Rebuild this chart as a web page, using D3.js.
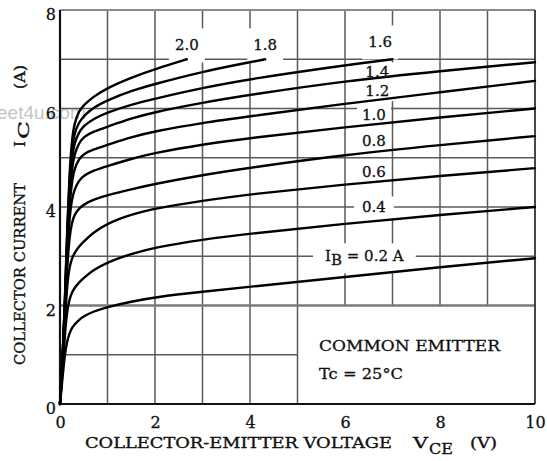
<!DOCTYPE html>
<html><head><meta charset="utf-8">
<script src="https://cdn.jsdelivr.net/npm/d3@7"></script>
<style>body{margin:0;background:#fff}svg{display:block}</style>
</head><body><svg id="c" width="547" height="461"></svg>
<script>
// ---- data ----
const vce   = [0,0.05,0.1,0.15,0.2,0.25,0.3,0.4,0.5,0.7,1,1.5,2,3,4,6,8,10];
const ic02  = [0,0.5,1.0,1.28,1.44,1.54,1.61,1.71,1.78,1.88,1.97,2.08,2.17,2.28,2.38,2.58,2.78,2.96];
const ic04  = [0,0.6,1.4,1.9,2.13,2.26,2.35,2.47,2.56,2.72,2.88,3.05,3.18,3.34,3.46,3.66,3.84,4.0];
const ic06  = [0,0.65,1.6,2.45,2.78,2.95,3.06,3.2,3.3,3.48,3.67,3.85,3.97,4.13,4.26,4.46,4.63,4.79];
const ic08  = [0,0.7,1.7,2.8,3.4,3.68,3.84,3.97,4.05,4.15,4.24,4.36,4.47,4.65,4.8,5.06,5.26,5.44];
const ic10  = [0,0.75,1.75,3.0,3.8,4.15,4.35,4.54,4.64,4.74,4.83,4.98,5.1,5.27,5.4,5.62,5.82,6.0];
const ic12  = [0,0.75,1.8,3.15,4.05,4.5,4.77,4.98,5.08,5.17,5.26,5.42,5.54,5.71,5.84,6.1,6.33,6.56];
const ic14  = [0,0.8,1.85,3.25,4.25,4.75,5.07,5.3,5.43,5.53,5.63,5.8,5.93,6.12,6.28,6.56,6.76,6.94];
const vce16 = [0,0.05,0.1,0.15,0.2,0.25,0.3,0.4,0.5,0.7,1,1.5,2,3,4,6,7];
const ic16  = [0,0.8,1.9,3.35,4.4,4.95,5.3,5.52,5.65,5.79,5.92,6.08,6.2,6.42,6.6,6.88,7.0];
const vce18 = [0,0.05,0.1,0.15,0.2,0.25,0.3,0.4,0.5,0.7,1,1.5,2,3,4,4.32];
const ic18  = [0,0.8,1.95,3.45,4.55,5.15,5.5,5.72,5.85,6.02,6.17,6.36,6.5,6.75,6.94,7.0];
const vce20 = [0,0.05,0.1,0.15,0.2,0.25,0.3,0.4,0.5,0.7,1,1.5,2,2.67];
const ic20  = [0,0.8,2.0,3.55,4.7,5.35,5.7,5.95,6.07,6.24,6.42,6.63,6.8,7.0];
const ibLabels = ["2.0","1.8","1.6","1.4","1.2","1.0","0.8","0.6","0.4","0.2"];
const xTicks = [0,2,4,6,8,10];
const yTicks = [0,2,4,6,8];
const xGrid = [1,2,3,4,5,6,7,8,9];
const yGrid = [1,2,3,4,5,6,7];

// ---- layout ----
const svg = d3.select("#c");
const x = d3.scaleLinear().domain([0,10]).range([60,535]);
const y = d3.scaleLinear().domain([0,8]).range([404,10]);
const FONT = "'DejaVu Serif', serif";
const INK = "#111";
const box = {x0:5, y1:2}; // lower-right legend box (no grid inside)

svg.append("rect").attr("width",547).attr("height",461).attr("fill","#fff");

// watermark
svg.append("text").attr("x",-3).attr("y",119).attr("font-family","'Liberation Sans', Arial, sans-serif")
  .attr("font-size",19).attr("fill","#c4c4c4").text("eet4u.com");

// grid
const grid = svg.append("g").attr("stroke","#5a5a5a").attr("stroke-width",1.5);
xGrid.forEach(v=>{
  grid.append("line").attr("x1",x(v)).attr("x2",x(v))
    .attr("y1", v>box.x0 ? y(box.y1) : y(0)).attr("y2",y(8));
});
yGrid.forEach(v=>{
  grid.append("line").attr("y1",y(v)).attr("y2",y(v))
    .attr("x1",x(0)).attr("x2", v<box.y1 ? x(box.x0) : x(10))
    .attr("stroke", v===2 ? "#7a7a7a" : null).attr("stroke-width", v===2 ? 2.6 : null);
});

const maskLayer = svg.append("g");

// frame
svg.append("line").attr("x1",x(0)).attr("x2",x(10)).attr("y1",y(8)).attr("y2",y(8)).attr("stroke","#8a8a8a").attr("stroke-width",2.2);
svg.append("line").attr("x1",x(10)).attr("x2",x(10)).attr("y1",y(8)).attr("y2",y(0)).attr("stroke","#333").attr("stroke-width",1.8);
svg.append("line").attr("x1",x(0)).attr("x2",x(0)).attr("y1",y(8)).attr("y2",y(0)).attr("stroke","#111").attr("stroke-width",2.2);
svg.append("line").attr("x1",x(0)).attr("x2",x(10)).attr("y1",y(0)).attr("y2",y(0)).attr("stroke","#111").attr("stroke-width",2.2);

// curves
const series = [
  [vce20,ic20],[vce18,ic18],[vce16,ic16],[vce,ic14],[vce,ic12],
  [vce,ic10],[vce,ic08],[vce,ic06],[vce,ic04],[vce,ic02]
];
const line = d3.line().x(d=>x(d[0])).y(d=>y(d[1])).curve(d3.curveBasis);
svg.append("g").selectAll("path").data(series).join("path")
  .attr("d", s => line(s[0].map((v,i)=>[v,s[1][i]])))
  .attr("fill","none").attr("stroke","#000").attr("stroke-width",2.4)
  .attr("stroke-linejoin","round").attr("stroke-linecap","round");

// curve labels (position in data units + mask padding)
const labelPos = [
  {vx:2.67, vy:7.29, px:6, py:8},
  {vx:4.32, vy:7.29, px:6, py:8},
  {vx:6.74, vy:7.35, px:6, py:8},
  {vx:6.68, vy:6.74, px:5, py:1},
  {vx:6.68, vy:6.36, px:5, py:1},
  {vx:6.61, vy:5.87, px:5, py:2},
  {vx:6.61, vy:5.34, px:4, py:2},
  {vx:6.61, vy:4.71, px:4, py:2},
  {vx:6.61, vy:4.0,  px:8, py:2}
];
const textLayer = svg.append("g").attr("font-family",FONT).attr("fill",INK)
  .attr("stroke",INK).attr("stroke-width",0.3);
function addMask(node, px, py){
  const b = node.getBBox();
  maskLayer.append("rect").attr("x",b.x-px).attr("y",b.y-py)
    .attr("width",b.width+2*px).attr("height",b.height+2*py).attr("fill","#fff");
}
labelPos.forEach((p,i)=>{
  const t = textLayer.append("text").attr("x",x(p.vx)).attr("y",y(p.vy)).attr("dy","0.36em")
    .attr("text-anchor","middle").attr("font-size",15).text(ibLabels[i]);
  addMask(t.node(), p.px, p.py);
});
// IB = 0.2 A
{
  const t = textLayer.append("text").attr("x",x(5.58)).attr("y",y(3.0)).attr("dy","0.34em").attr("font-size",15);
  t.append("tspan").text("I");
  t.append("tspan").attr("dy",4).text("B");
  t.append("tspan").attr("dy",-4).text(" = " + ibLabels[9] + " A");
  addMask(t.node(), 12, 4);
}

// legend text in box
textLayer.append("text").attr("x",319).attr("y",351).attr("font-size",15)
  .attr("textLength",181).attr("lengthAdjust","spacingAndGlyphs").text("COMMON EMITTER");
textLayer.append("text").attr("x",319).attr("y",379).attr("font-size",15)
  .attr("textLength",84).attr("lengthAdjust","spacingAndGlyphs").text("Tc = 25°C");

// axes tick labels
const ax = svg.append("g").attr("transform",`translate(0,${y(0)})`)
  .call(d3.axisBottom(x).tickValues(xTicks).tickSize(0).tickPadding(13).tickFormat(d3.format("d")));
ax.select(".domain").remove();
ax.selectAll("text").attr("font-family",FONT).attr("font-size",16).attr("fill",INK)
  .attr("stroke",INK).attr("stroke-width",0.3);
const ay = svg.append("g").attr("transform",`translate(${x(0)},0)`)
  .call(d3.axisLeft(y).tickValues(yTicks).tickSize(0).tickPadding(4).tickFormat(d3.format("d")));
ay.select(".domain").remove();
ay.selectAll("text").attr("font-family",FONT).attr("font-size",16).attr("fill",INK).attr("dy","0.6em")
  .attr("stroke",INK).attr("stroke-width",0.3);

// axis titles
const tx = svg.append("g").attr("font-family",FONT).attr("font-size",15).attr("fill",INK)
  .attr("stroke",INK).attr("stroke-width",0.35);
tx.append("text").attr("x",85).attr("y",448).attr("textLength",307).attr("lengthAdjust","spacingAndGlyphs")
  .text("COLLECTOR-EMITTER VOLTAGE");
tx.append("text").attr("x",413).attr("y",448).attr("textLength",15).attr("lengthAdjust","spacingAndGlyphs").text("V");
tx.append("text").attr("x",429).attr("y",454).attr("textLength",24).attr("lengthAdjust","spacingAndGlyphs").text("CE");
tx.append("text").attr("x",470).attr("y",448).attr("textLength",27).attr("lengthAdjust","spacingAndGlyphs").text("(V)");

const ty = svg.append("g").attr("font-family",FONT).attr("font-size",15).attr("fill",INK)
  .attr("stroke",INK).attr("stroke-width",0.35).attr("transform","rotate(-90)");
ty.append("text").attr("x",-365).attr("y",25).attr("textLength",182).attr("lengthAdjust","spacingAndGlyphs")
  .text("COLLECTOR CURRENT");
ty.append("text").attr("x",-147).attr("y",25).text("I");
ty.append("text").attr("x",-139).attr("y",29).attr("textLength",18).attr("lengthAdjust","spacingAndGlyphs").text("C");
ty.append("text").attr("x",-89).attr("y",25).attr("textLength",24).attr("lengthAdjust","spacingAndGlyphs").text("(A)");
</script></body></html>
